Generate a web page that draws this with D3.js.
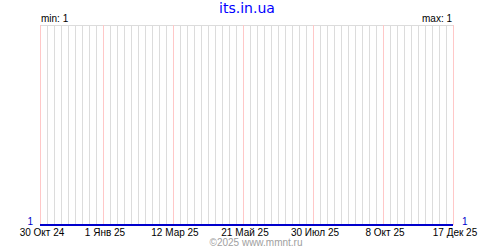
<!DOCTYPE html>
<html><head><meta charset="utf-8">
<script src="https://cdn.jsdelivr.net/npm/d3@7"></script>
<style>html,body{margin:0;padding:0;background:#fff;}svg{display:block;}</style>
</head><body>
<svg id="chart" width="500" height="250"></svg>
<script>
const title = "its.in.ua";
const credit = "©2025 www.mmnt.ru";
const seriesDates = ["2024-10-30", "2025-12-17"];
const seriesValues = [1, 1];
const tickDates = ["2024-10-30", "2025-01-01", "2025-03-12", "2025-05-21", "2025-07-30", "2025-10-08", "2025-12-17"];
const tickLabels = ["30 Окт 24", "1 Янв 25", "12 Мар 25", "21 Май 25", "30 Июл 25", "8 Окт 25", "17 Дек 25"];
const minLabel = "min: 1", maxLabel = "max: 1";

const parse = d3.utcParse("%Y-%m-%d");
const svg = d3.select("#chart");
const L = 40, R = 453, T = 25, B = 225;
const font = "'Liberation Sans', Arial, sans-serif";

const x = d3.scaleUtc().domain([parse(seriesDates[0]), parse(seriesDates[seriesDates.length - 1])]).range([L, R]);
const vmin = d3.min(seriesValues), vmax = d3.max(seriesValues);
const y = d3.scaleLinear().domain(vmin === vmax ? [vmin, vmin + 1] : [vmin, vmax]).range([B, T]);

// weekly grid lines
const weeks = d3.utcDay.range(x.domain()[0], d3.utcDay.offset(x.domain()[1], 1), 7);
svg.append("g").selectAll("line").data(weeks).join("line")
  .attr("x1", d => Math.round(x(d)) + 0.5).attr("x2", d => Math.round(x(d)) + 0.5)
  .attr("y1", T).attr("y2", B)
  .attr("stroke", "#dcdcdc").attr("stroke-width", 1);

// top border
svg.append("line").attr("x1", L).attr("x2", R + 1).attr("y1", T + 0.5).attr("y2", T + 0.5)
  .attr("stroke", "#dcdcdc");

// labelled tick lines
const tds = tickDates.map(parse);
svg.append("g").selectAll("line").data(tds).join("line")
  .attr("x1", d => Math.round(x(d)) + 0.5).attr("x2", d => Math.round(x(d)) + 0.5)
  .attr("y1", T).attr("y2", B)
  .attr("stroke", "#ffc8c8").attr("stroke-width", 1);

// series line
const pts = seriesDates.map((d, i) => [parse(d), seriesValues[i]]);
svg.append("path").datum(pts)
  .attr("d", d3.line().x(d => x(d[0])).y(d => Math.round(y(d[1]))))
  .attr("fill", "none").attr("stroke", "#0000cc").attr("stroke-width", 2);

// x tick labels
svg.append("g").selectAll("text").data(tds).join("text")
  .attr("x", d => x(d) + 2).attr("y", 236)
  .attr("text-anchor", "middle")
  .attr("font-family", font).attr("font-size", 10).attr("fill", "#000")
  .text((d, i) => tickLabels[i]);

// value labels
svg.append("text").attr("x", 33).attr("y", 225).attr("text-anchor", "end")
  .attr("font-family", font).attr("font-size", 10).attr("fill", "#0000cc").text(vmin);
svg.append("text").attr("x", 462).attr("y", 225).attr("text-anchor", "start")
  .attr("font-family", font).attr("font-size", 10).attr("fill", "#0000cc").text(vmax);

// min / max
svg.append("text").attr("x", 41).attr("y", 22).attr("font-family", font).attr("font-size", 10).text(minLabel);
svg.append("text").attr("x", 452).attr("y", 22).attr("text-anchor", "end").attr("font-family", font).attr("font-size", 10).text(maxLabel);

// title
svg.append("text").attr("x", 247).attr("y", 13).attr("text-anchor", "middle")
  .attr("font-family", "'DejaVu Sans', sans-serif").attr("font-size", 14).attr("fill", "#0000ff").text(title);

// credit
svg.append("text").attr("x", 256).attr("y", 246).attr("text-anchor", "middle")
  .attr("font-family", font).attr("font-size", 10).attr("fill", "#a0a0a0").text(credit);
</script>
</body></html>
